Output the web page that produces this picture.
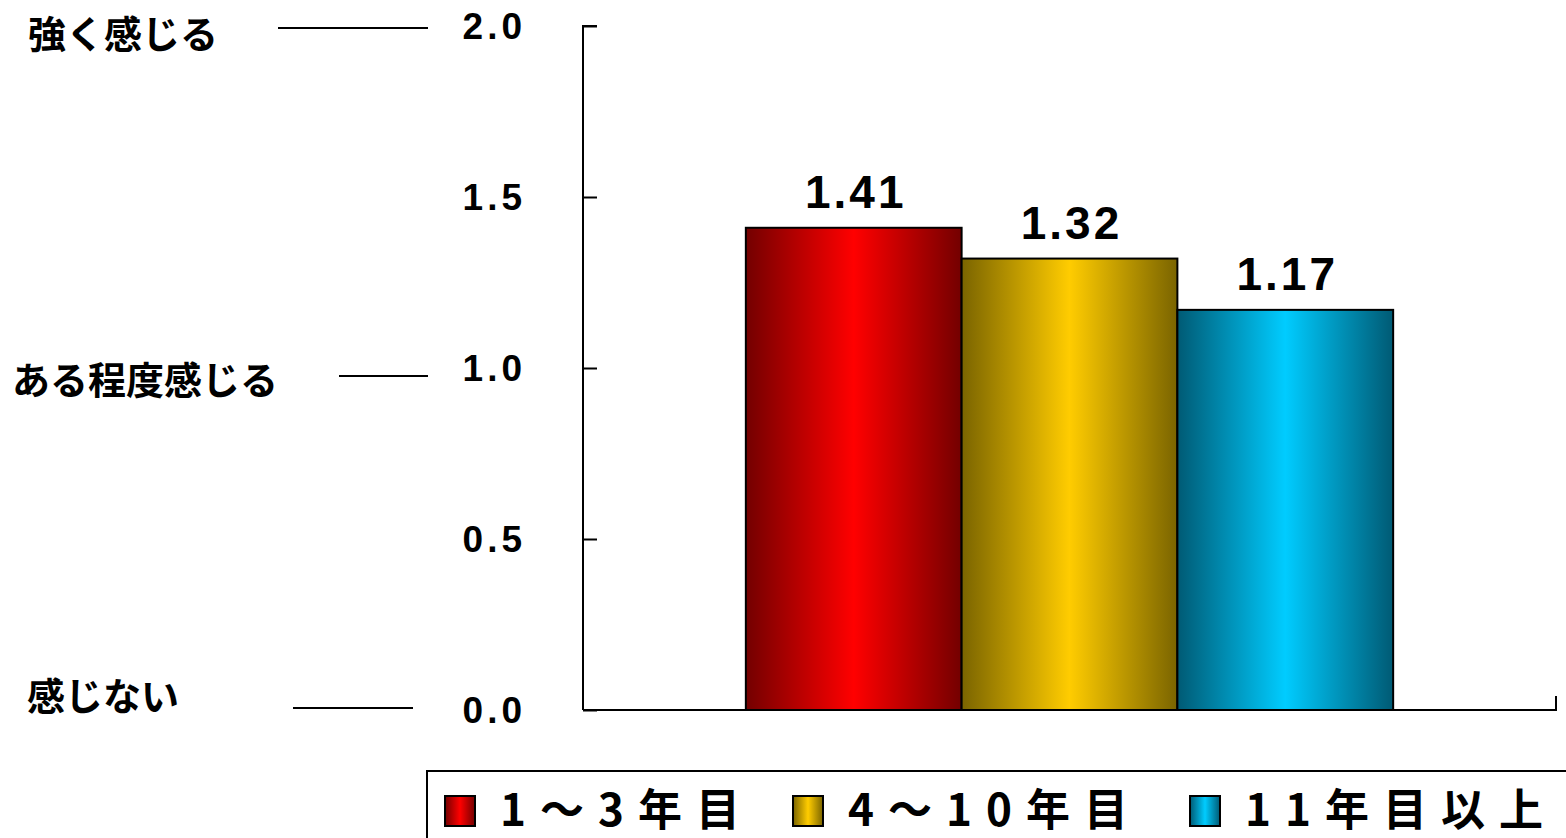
<!DOCTYPE html>
<html>
<head>
<meta charset="utf-8">
<script src="https://cdn.jsdelivr.net/npm/d3@7"></script>
<style>
  body { margin: 0; background: #fff; }
  svg { display: block; }
</style>
</head>
<body>
<div id="chart"></div>
<script>
const series = ['1～3年目', '4～10年目', '11年目以上']
const values = [1.41, 1.32, 1.17]
const tickValues = [0, 0.5, 1.0, 1.5, 2.0]
const scaleLabels = ['感じない', 'ある程度感じる', '強く感じる']
const scaleLabelValues = [0, 1, 2]

const colors = [
  { edge: '#730000', mid: '#ff0000' },
  { edge: '#7a6400', mid: '#ffcc00' },
  { edge: '#005a74', mid: '#00ccff' }
]

const width = 1566
const height = 838
const plot = { left: 583, right: 1556, top: 26, bottom: 710 }

const svg = d3
  .select('#chart')
  .append('svg')
  .attr('width', width)
  .attr('height', height)

const jp = "'Noto Sans CJK JP', 'Noto Sans', sans-serif"
const num = "'Liberation Sans', Arial, sans-serif"

// gradients, dark at the edges and bright in the middle
const defs = svg.append('defs')
colors.forEach((c, i) => {
  const g = defs
    .append('linearGradient')
    .attr('id', 'grad' + i)
    .attr('x1', '0%')
    .attr('x2', '100%')
    .attr('y1', '0%')
    .attr('y2', '0%')
  g.append('stop').attr('offset', '0%').attr('stop-color', c.edge)
  g.append('stop').attr('offset', '50%').attr('stop-color', c.mid)
  g.append('stop').attr('offset', '100%').attr('stop-color', c.edge)
})

const yScale = d3
  .scaleLinear()
  .domain([0, 2])
  .range([plot.bottom, plot.top])

const xGroup = d3
  .scaleBand()
  .domain(['all'])
  .range([plot.left, plot.right])
  .padding(0.201)

const xBar = d3
  .scaleBand()
  .domain(series)
  .range([0, xGroup.bandwidth()])

// y axis, ticks pointing inward
const yAxis = svg
  .append('g')
  .attr('transform', `translate(${plot.left},0)`)
  .call(
    d3
      .axisRight(yScale)
      .tickValues(tickValues)
      .tickSize(14)
      .tickFormat('')
  )
yAxis.select('.domain').attr('d', `M14,${plot.top}H0V${plot.bottom}`)
yAxis.selectAll('line').attr('stroke', '#000').attr('stroke-width', 2)
yAxis.select('.domain').attr('stroke', '#000').attr('stroke-width', 2)

svg
  .selectAll('.tick-label')
  .data(tickValues)
  .enter()
  .append('text')
  .attr('class', 'tick-label')
  .attr('x', 526)
  .attr('y', d => yScale(d) + 13)
  .attr('text-anchor', 'end')
  .attr('font-family', num)
  .attr('font-weight', 'bold')
  .attr('font-size', 37)
  .attr('letter-spacing', 4)
  .text(d => d.toFixed(1))

// x axis
svg
  .append('path')
  .attr('d', `M${plot.left},${plot.bottom}H${plot.right}V${plot.bottom - 14}`)
  .attr('fill', 'none')
  .attr('stroke', '#000')
  .attr('stroke-width', 2)

// bars
const barG = svg.append('g').attr('transform', `translate(${xGroup('all')},0)`)

barG
  .selectAll('rect')
  .data(values)
  .enter()
  .append('rect')
  .attr('x', (d, i) => xBar(series[i]))
  .attr('y', d => yScale(d))
  .attr('width', xBar.bandwidth())
  .attr('height', d => yScale(0) - yScale(d))
  .attr('fill', (d, i) => `url(#grad${i})`)
  .attr('stroke', '#000')
  .attr('stroke-width', 2)

barG
  .selectAll('.value')
  .data(values)
  .enter()
  .append('text')
  .attr('class', 'value')
  .attr('x', (d, i) => xBar(series[i]) + xBar.bandwidth() / 2 + 2)
  .attr('y', d => yScale(d) - 20)
  .attr('text-anchor', 'middle')
  .attr('font-family', num)
  .attr('font-weight', 'bold')
  .attr('font-size', 46)
  .attr('letter-spacing', 3)
  .text(d => d.toFixed(2))

// scale wording on the left, with the little rules
const wordX = [27, 12, 28]
const wordY = [697, 381, 35]
const ruleSpans = [[293, 413, 708], [339, 428, 376], [278, 428, 28]]

svg
  .selectAll('.scale-word')
  .data(scaleLabels)
  .enter()
  .append('text')
  .attr('class', 'scale-word')
  .attr('x', (d, i) => wordX[i])
  .attr('y', (d, i) => wordY[i] + 13)
  .attr('font-family', jp)
  .attr('font-weight', 'bold')
  .attr('font-size', 38)
  .attr('letter-spacing', 0)
  .text(d => d)

svg
  .selectAll('.scale-rule')
  .data(scaleLabelValues)
  .enter()
  .append('line')
  .attr('class', 'scale-rule')
  .attr('x1', (d, i) => ruleSpans[i][0])
  .attr('x2', (d, i) => ruleSpans[i][1])
  .attr('y1', (d, i) => ruleSpans[i][2])
  .attr('y2', (d, i) => ruleSpans[i][2])
  .attr('stroke', '#000')
  .attr('stroke-width', 2)

// legend (runs off the right and bottom edges)
svg
  .append('rect')
  .attr('x', 427)
  .attr('y', 771)
  .attr('width', 1200)
  .attr('height', 120)
  .attr('fill', '#fff')
  .attr('stroke', '#000')
  .attr('stroke-width', 2)

const legendX = [445, 793, 1190]

const legend = svg
  .selectAll('.legend')
  .data(series)
  .enter()
  .append('g')
  .attr('class', 'legend')
  .attr('transform', (d, i) => `translate(${legendX[i]},796)`)

legend
  .append('rect')
  .attr('width', 30)
  .attr('height', 30)
  .attr('fill', (d, i) => `url(#grad${i})`)
  .attr('stroke', '#000')
  .attr('stroke-width', 2)

legend
  .append('text')
  .attr('x', 55)
  .attr('y', 30)
  .attr('font-family', jp)
  .attr('font-weight', 'bold')
  .attr('font-size', 44)
  .attr('letter-spacing', 14)
  .text(d => d)
</script>
</body>
</html>
